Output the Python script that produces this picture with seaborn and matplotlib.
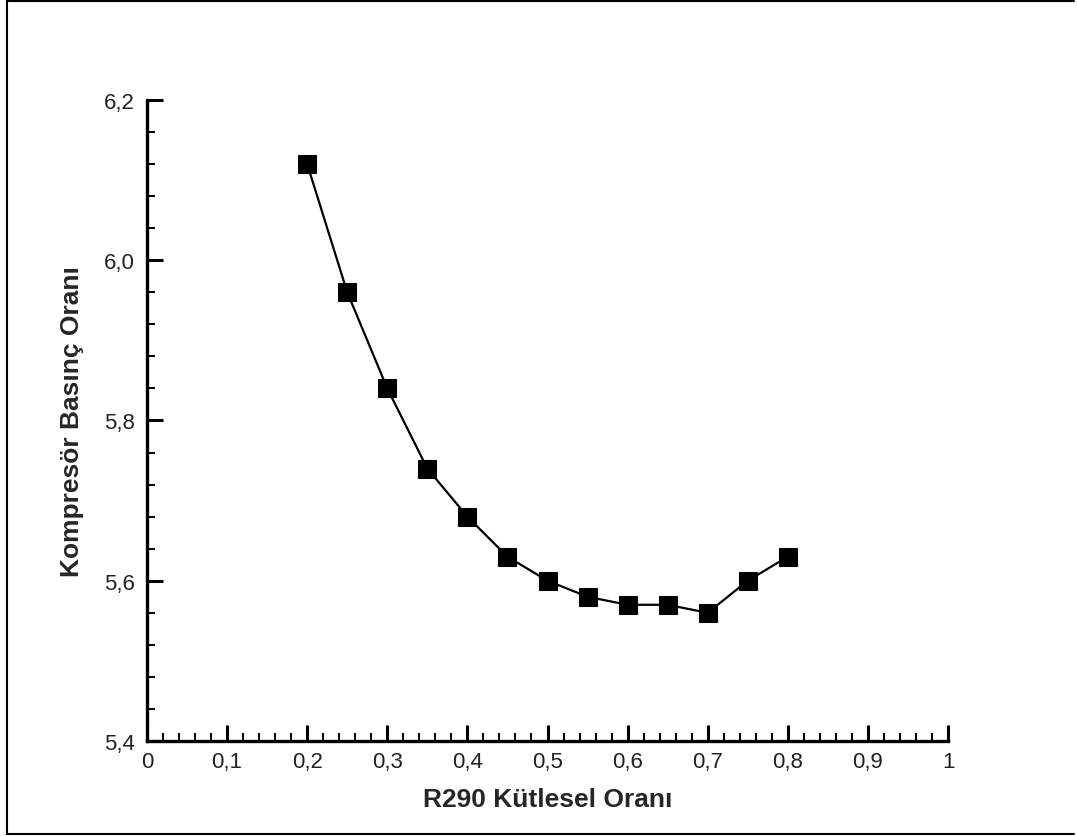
# Load libraries
import numpy as np
import pandas as pd
import matplotlib
matplotlib.use('Agg')
import matplotlib.pyplot as plt
from matplotlib.ticker import MultipleLocator, FuncFormatter
import seaborn as sns

# Data
r290_ratio = [0.20, 0.25, 0.30, 0.35, 0.40, 0.45, 0.50, 0.55, 0.60, 0.65, 0.70, 0.75, 0.80]
pressure_ratio = [6.12, 5.96, 5.84, 5.74, 5.68, 5.63, 5.60, 5.58, 5.57, 5.57, 5.56, 5.60, 5.63]

df = pd.DataFrame({'x': r290_ratio, 'y': pressure_ratio})

sns.set_style('white')
plt.rcParams['font.family'] = ['Liberation Sans', 'DejaVu Sans']

fig = plt.figure(figsize=(10.77, 8.37), dpi=100)
ax = fig.add_axes([147 / 1077, 1 - 742 / 837, (948 - 147) / 1077, (742 - 101) / 837])

sns.lineplot(data=df, x='x', y='y', ax=ax, color='black', linewidth=1.6,
             marker='s', markersize=13, markeredgecolor='black', markerfacecolor='black')

ax.set_xlim(0, 1)
ax.set_ylim(5.4, 6.2)
ax.xaxis.set_major_locator(MultipleLocator(0.1))
ax.xaxis.set_minor_locator(MultipleLocator(0.02))
ax.yaxis.set_major_locator(MultipleLocator(0.2))
ax.yaxis.set_minor_locator(MultipleLocator(0.04))

# Comma decimals
ax.xaxis.set_major_formatter(FuncFormatter(lambda v, p: ('%g' % round(v, 2)).replace('.', ',')))
ax.yaxis.set_major_formatter(FuncFormatter(lambda v, p: ('%.1f' % v).replace('.', ',')))

for side in ['top', 'right']:
    ax.spines[side].set_visible(False)
for side in ['left', 'bottom']:
    ax.spines[side].set_linewidth(2.4)
    ax.spines[side].set_color('black')

ax.tick_params(which='both', bottom=True, left=True, top=False, right=False)
ax.tick_params(which='major', direction='in', length=11.5, width=2.2, labelsize=16,
               colors='black', labelcolor='#222222')
ax.tick_params(which='minor', direction='in', length=5.5, width=1.4, colors='black')
ax.tick_params(axis='x', which='major', pad=7)
ax.tick_params(axis='y', which='major', pad=9)

ax.set_xlabel('R290 Kütlesel Oranı', fontsize=19, fontweight='bold')
ax.set_ylabel('Kompresör Basınç Oranı', fontsize=19, fontweight='bold')
ax.xaxis.set_label_coords(0.5, (742 - 800) / 641)
ax.xaxis.label.set_va('center')
ax.yaxis.set_label_coords((72 - 147) / 801, 0.5)
ax.yaxis.label.set_va('center')

# Outer frame around the figure
fig.add_artist(plt.Line2D([7 / 1077, 7 / 1077], [2 / 837, 1 - 2 / 837], color='black', lw=1.5, transform=fig.transFigure))
fig.add_artist(plt.Line2D([7 / 1077, 1074 / 1077], [1 - 2 / 837, 1 - 2 / 837], color='black', lw=1.5, transform=fig.transFigure))
fig.add_artist(plt.Line2D([7 / 1077, 1074 / 1077], [2 / 837, 2 / 837], color='black', lw=1.5, transform=fig.transFigure))

fig.savefig('out.png', dpi=100)
